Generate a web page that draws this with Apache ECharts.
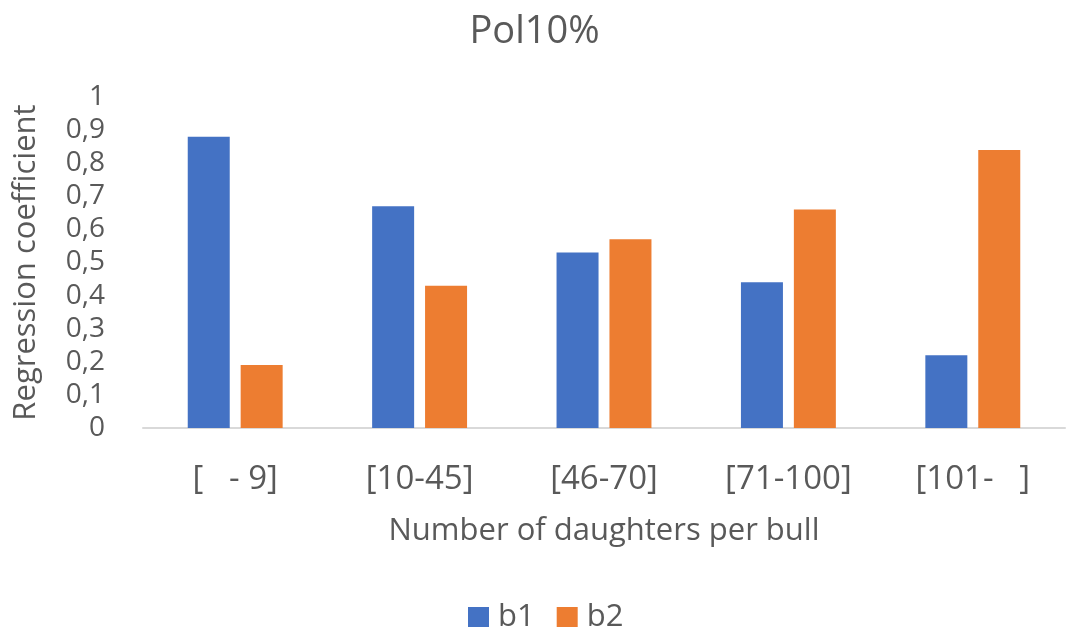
<!DOCTYPE html>
<html><head><meta charset="utf-8">
<script src="https://cdn.jsdelivr.net/npm/echarts@6/dist/echarts.min.js"></script>
<style>html,body{margin:0;padding:0;background:#fff}#c{width:1069px;height:627px}</style>
</head><body><div id="c"></div>
<script>
const categories = ['[   - 9]', '[10-45]', '[46-70]', '[71-100]', '[101-   ]'];
const b1 = [0.88, 0.67, 0.53, 0.44, 0.22];
const b2 = [0.19, 0.43, 0.57, 0.66, 0.84];
const yTicks = [0, 0.1, 0.2, 0.3, 0.4, 0.5, 0.6, 0.7, 0.8, 0.9, 1];

const FONT = 'Open Sans';
const chart = echarts.init(document.getElementById('c'));
chart.setOption({
  animation: false,
  textStyle: { fontFamily: FONT, color: '#595959' },
  title: { text: 'Pol10%', left: 'center', top: 8,
    textStyle: { fontFamily: FONT, fontSize: 38, fontWeight: 'normal', color: '#595959' } },
  legend: { top: 597, left: 463, itemWidth: 21, itemHeight: 21, itemGap: 22,
    icon: 'rect',
    textStyle: { fontFamily: FONT, fontSize: 31, color: '#595959', padding: [0, 0, 0, 4] },
    data: ['b1', 'b2'] },
  grid: { left: 143, right: 4, top: 97, bottom: 199, containLabel: false },
  xAxis: { type: 'category', data: categories,
    axisLine: { lineStyle: { color: '#d9d9d9', width: 2 } }, axisTick: { show: false },
    axisLabel: { fontFamily: FONT, fontSize: 33, color: '#595959', margin: 35 },
    name: 'Number of daughters per bull', nameLocation: 'middle', nameGap: 88,
    nameTextStyle: { fontFamily: FONT, fontSize: 31, color: '#595959' } },
  yAxis: { type: 'value', min: 0, max: 1, interval: 0.1,
    splitLine: { show: false }, axisLine: { show: false }, axisTick: { show: false },
    axisLabel: { fontFamily: FONT, fontSize: 28, color: '#595959', margin: 38,
      formatter: v => { const t = yTicks.find(x => Math.abs(x - v) < 1e-9); return String(Math.round((t ?? v) * 10) / 10).replace('.', ','); } },
    name: 'Regression coefficient', nameLocation: 'middle', nameGap: 101,
    nameTextStyle: { fontFamily: FONT, fontSize: 31, color: '#595959' } },
  series: [
    { name: 'b1', type: 'bar', data: b1, barWidth: 42, barGap: '26%', itemStyle: { color: '#4472C4' } },
    { name: 'b2', type: 'bar', data: b2, barWidth: 42, itemStyle: { color: '#ED7D31' } }
  ]
});
</script></body></html>
